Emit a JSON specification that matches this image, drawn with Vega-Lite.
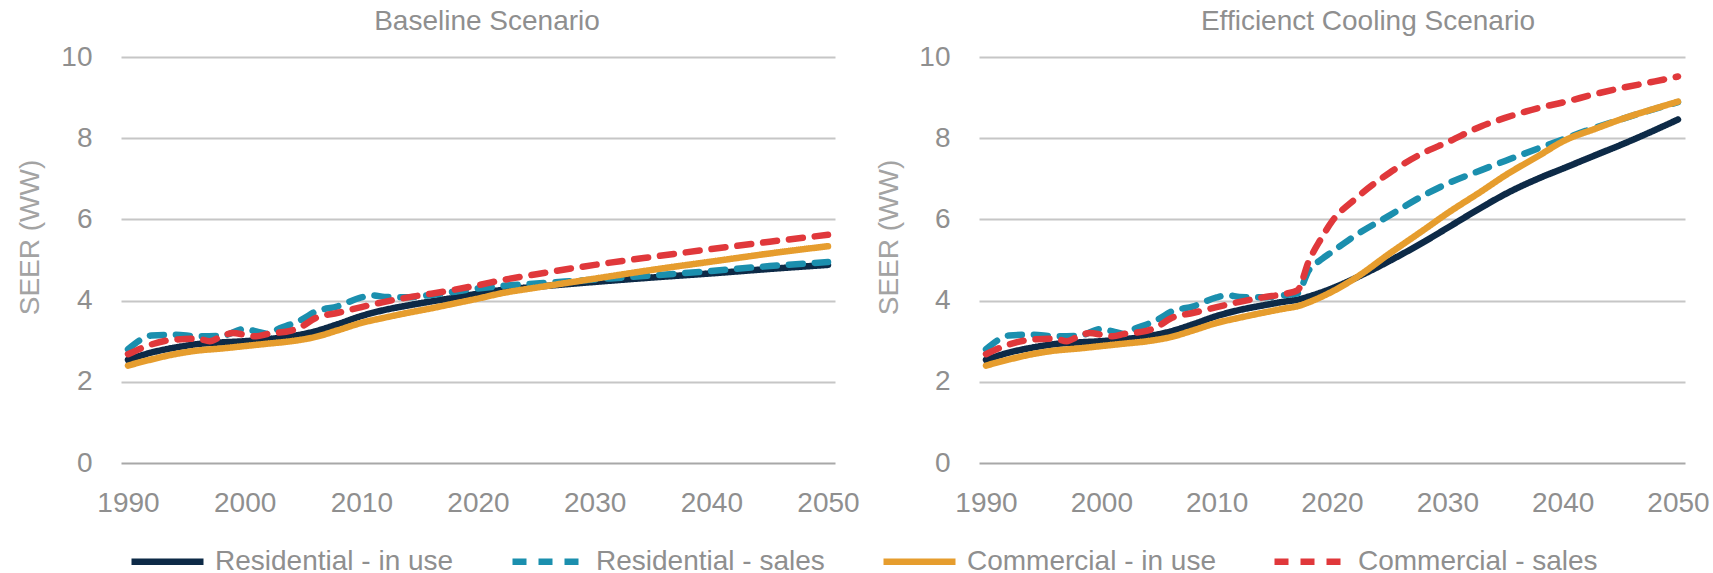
{
  "$schema": "https://vega.github.io/schema/vega-lite/v6.json",
  "background": "white",
  "padding": {"left": 16, "top": 8, "right": 10, "bottom": 0},
  "spacing": 15,
  "datasets": {
    "baseline": [
      {"s": "Residential - in use", "year": 1990, "seer": 2.54},
      {"s": "Residential - in use", "year": 1992, "seer": 2.72},
      {"s": "Residential - in use", "year": 1994, "seer": 2.84},
      {"s": "Residential - in use", "year": 1996, "seer": 2.93},
      {"s": "Residential - in use", "year": 1998, "seer": 2.97},
      {"s": "Residential - in use", "year": 2000, "seer": 3.0},
      {"s": "Residential - in use", "year": 2002, "seer": 3.05},
      {"s": "Residential - in use", "year": 2004, "seer": 3.12},
      {"s": "Residential - in use", "year": 2006, "seer": 3.24},
      {"s": "Residential - in use", "year": 2008, "seer": 3.42},
      {"s": "Residential - in use", "year": 2010, "seer": 3.62},
      {"s": "Residential - in use", "year": 2012, "seer": 3.77},
      {"s": "Residential - in use", "year": 2014, "seer": 3.88},
      {"s": "Residential - in use", "year": 2016, "seer": 3.98},
      {"s": "Residential - in use", "year": 2018, "seer": 4.07},
      {"s": "Residential - in use", "year": 2020, "seer": 4.17},
      {"s": "Residential - in use", "year": 2022, "seer": 4.26},
      {"s": "Residential - in use", "year": 2025, "seer": 4.34},
      {"s": "Residential - in use", "year": 2030, "seer": 4.46},
      {"s": "Residential - in use", "year": 2035, "seer": 4.57},
      {"s": "Residential - in use", "year": 2040, "seer": 4.67},
      {"s": "Residential - in use", "year": 2045, "seer": 4.78},
      {"s": "Residential - in use", "year": 2050, "seer": 4.88},

      {"s": "Residential - sales", "year": 1990, "seer": 2.8},
      {"s": "Residential - sales", "year": 1991, "seer": 3.02},
      {"s": "Residential - sales", "year": 1992, "seer": 3.14},
      {"s": "Residential - sales", "year": 1994, "seer": 3.16},
      {"s": "Residential - sales", "year": 1996, "seer": 3.12},
      {"s": "Residential - sales", "year": 1998, "seer": 3.13},
      {"s": "Residential - sales", "year": 2000, "seer": 3.3},
      {"s": "Residential - sales", "year": 2001, "seer": 3.24},
      {"s": "Residential - sales", "year": 2002, "seer": 3.18},
      {"s": "Residential - sales", "year": 2003, "seer": 3.32},
      {"s": "Residential - sales", "year": 2004, "seer": 3.42},
      {"s": "Residential - sales", "year": 2005, "seer": 3.55},
      {"s": "Residential - sales", "year": 2006, "seer": 3.72},
      {"s": "Residential - sales", "year": 2008, "seer": 3.86},
      {"s": "Residential - sales", "year": 2010, "seer": 4.08},
      {"s": "Residential - sales", "year": 2011, "seer": 4.13},
      {"s": "Residential - sales", "year": 2012, "seer": 4.09},
      {"s": "Residential - sales", "year": 2014, "seer": 4.08},
      {"s": "Residential - sales", "year": 2016, "seer": 4.14},
      {"s": "Residential - sales", "year": 2018, "seer": 4.22},
      {"s": "Residential - sales", "year": 2020, "seer": 4.3},
      {"s": "Residential - sales", "year": 2022, "seer": 4.36},
      {"s": "Residential - sales", "year": 2025, "seer": 4.42},
      {"s": "Residential - sales", "year": 2030, "seer": 4.52},
      {"s": "Residential - sales", "year": 2035, "seer": 4.62},
      {"s": "Residential - sales", "year": 2040, "seer": 4.73},
      {"s": "Residential - sales", "year": 2045, "seer": 4.85},
      {"s": "Residential - sales", "year": 2050, "seer": 4.95},

      {"s": "Commercial - in use", "year": 1990, "seer": 2.4},
      {"s": "Commercial - in use", "year": 1992, "seer": 2.55},
      {"s": "Commercial - in use", "year": 1994, "seer": 2.68},
      {"s": "Commercial - in use", "year": 1996, "seer": 2.77},
      {"s": "Commercial - in use", "year": 1998, "seer": 2.82},
      {"s": "Commercial - in use", "year": 2000, "seer": 2.88},
      {"s": "Commercial - in use", "year": 2002, "seer": 2.94},
      {"s": "Commercial - in use", "year": 2004, "seer": 3.0},
      {"s": "Commercial - in use", "year": 2006, "seer": 3.1},
      {"s": "Commercial - in use", "year": 2008, "seer": 3.27},
      {"s": "Commercial - in use", "year": 2010, "seer": 3.45},
      {"s": "Commercial - in use", "year": 2012, "seer": 3.58},
      {"s": "Commercial - in use", "year": 2014, "seer": 3.7},
      {"s": "Commercial - in use", "year": 2016, "seer": 3.81},
      {"s": "Commercial - in use", "year": 2018, "seer": 3.93},
      {"s": "Commercial - in use", "year": 2020, "seer": 4.05},
      {"s": "Commercial - in use", "year": 2022, "seer": 4.18},
      {"s": "Commercial - in use", "year": 2025, "seer": 4.32},
      {"s": "Commercial - in use", "year": 2030, "seer": 4.54},
      {"s": "Commercial - in use", "year": 2035, "seer": 4.76},
      {"s": "Commercial - in use", "year": 2040, "seer": 4.96},
      {"s": "Commercial - in use", "year": 2045, "seer": 5.16},
      {"s": "Commercial - in use", "year": 2050, "seer": 5.34},

      {"s": "Commercial - sales", "year": 1990, "seer": 2.68},
      {"s": "Commercial - sales", "year": 1992, "seer": 2.92},
      {"s": "Commercial - sales", "year": 1994, "seer": 3.04},
      {"s": "Commercial - sales", "year": 1996, "seer": 3.06},
      {"s": "Commercial - sales", "year": 1997, "seer": 3.0},
      {"s": "Commercial - sales", "year": 1998, "seer": 3.12},
      {"s": "Commercial - sales", "year": 1999, "seer": 3.2},
      {"s": "Commercial - sales", "year": 2000, "seer": 3.16},
      {"s": "Commercial - sales", "year": 2001, "seer": 3.12},
      {"s": "Commercial - sales", "year": 2002, "seer": 3.18},
      {"s": "Commercial - sales", "year": 2004, "seer": 3.26},
      {"s": "Commercial - sales", "year": 2005, "seer": 3.38},
      {"s": "Commercial - sales", "year": 2006, "seer": 3.56},
      {"s": "Commercial - sales", "year": 2008, "seer": 3.7},
      {"s": "Commercial - sales", "year": 2010, "seer": 3.84},
      {"s": "Commercial - sales", "year": 2012, "seer": 3.97},
      {"s": "Commercial - sales", "year": 2014, "seer": 4.08},
      {"s": "Commercial - sales", "year": 2016, "seer": 4.17},
      {"s": "Commercial - sales", "year": 2018, "seer": 4.27},
      {"s": "Commercial - sales", "year": 2020, "seer": 4.38},
      {"s": "Commercial - sales", "year": 2022, "seer": 4.5},
      {"s": "Commercial - sales", "year": 2025, "seer": 4.65},
      {"s": "Commercial - sales", "year": 2030, "seer": 4.88},
      {"s": "Commercial - sales", "year": 2035, "seer": 5.08},
      {"s": "Commercial - sales", "year": 2040, "seer": 5.27},
      {"s": "Commercial - sales", "year": 2045, "seer": 5.45},
      {"s": "Commercial - sales", "year": 2050, "seer": 5.62}
    ],
    "efficient": [
      {"s": "Residential - in use", "year": 1990, "seer": 2.54},
      {"s": "Residential - in use", "year": 1992, "seer": 2.72},
      {"s": "Residential - in use", "year": 1994, "seer": 2.84},
      {"s": "Residential - in use", "year": 1996, "seer": 2.93},
      {"s": "Residential - in use", "year": 1998, "seer": 2.97},
      {"s": "Residential - in use", "year": 2000, "seer": 3.0},
      {"s": "Residential - in use", "year": 2002, "seer": 3.05},
      {"s": "Residential - in use", "year": 2004, "seer": 3.12},
      {"s": "Residential - in use", "year": 2006, "seer": 3.24},
      {"s": "Residential - in use", "year": 2008, "seer": 3.42},
      {"s": "Residential - in use", "year": 2010, "seer": 3.62},
      {"s": "Residential - in use", "year": 2012, "seer": 3.77},
      {"s": "Residential - in use", "year": 2014, "seer": 3.88},
      {"s": "Residential - in use", "year": 2016, "seer": 3.98},
      {"s": "Residential - in use", "year": 2017, "seer": 4.02},
      {"s": "Residential - in use", "year": 2018, "seer": 4.1},
      {"s": "Residential - in use", "year": 2020, "seer": 4.3},
      {"s": "Residential - in use", "year": 2022, "seer": 4.55},
      {"s": "Residential - in use", "year": 2025, "seer": 4.98},
      {"s": "Residential - in use", "year": 2028, "seer": 5.45},
      {"s": "Residential - in use", "year": 2030, "seer": 5.79},
      {"s": "Residential - in use", "year": 2033, "seer": 6.3},
      {"s": "Residential - in use", "year": 2035, "seer": 6.62},
      {"s": "Residential - in use", "year": 2038, "seer": 7.02},
      {"s": "Residential - in use", "year": 2040, "seer": 7.25},
      {"s": "Residential - in use", "year": 2043, "seer": 7.6},
      {"s": "Residential - in use", "year": 2045, "seer": 7.83},
      {"s": "Residential - in use", "year": 2048, "seer": 8.2},
      {"s": "Residential - in use", "year": 2050, "seer": 8.46},

      {"s": "Residential - sales", "year": 1990, "seer": 2.8},
      {"s": "Residential - sales", "year": 1991, "seer": 3.02},
      {"s": "Residential - sales", "year": 1992, "seer": 3.14},
      {"s": "Residential - sales", "year": 1994, "seer": 3.16},
      {"s": "Residential - sales", "year": 1996, "seer": 3.12},
      {"s": "Residential - sales", "year": 1998, "seer": 3.13},
      {"s": "Residential - sales", "year": 2000, "seer": 3.3},
      {"s": "Residential - sales", "year": 2001, "seer": 3.24},
      {"s": "Residential - sales", "year": 2002, "seer": 3.18},
      {"s": "Residential - sales", "year": 2003, "seer": 3.32},
      {"s": "Residential - sales", "year": 2004, "seer": 3.42},
      {"s": "Residential - sales", "year": 2005, "seer": 3.55},
      {"s": "Residential - sales", "year": 2006, "seer": 3.72},
      {"s": "Residential - sales", "year": 2008, "seer": 3.86},
      {"s": "Residential - sales", "year": 2010, "seer": 4.08},
      {"s": "Residential - sales", "year": 2011, "seer": 4.13},
      {"s": "Residential - sales", "year": 2012, "seer": 4.09},
      {"s": "Residential - sales", "year": 2014, "seer": 4.08},
      {"s": "Residential - sales", "year": 2016, "seer": 4.14},
      {"s": "Residential - sales", "year": 2017, "seer": 4.18},
      {"s": "Residential - sales", "year": 2018, "seer": 4.75},
      {"s": "Residential - sales", "year": 2019, "seer": 5.0},
      {"s": "Residential - sales", "year": 2020, "seer": 5.2},
      {"s": "Residential - sales", "year": 2022, "seer": 5.6},
      {"s": "Residential - sales", "year": 2025, "seer": 6.1},
      {"s": "Residential - sales", "year": 2028, "seer": 6.6},
      {"s": "Residential - sales", "year": 2030, "seer": 6.88},
      {"s": "Residential - sales", "year": 2033, "seer": 7.22},
      {"s": "Residential - sales", "year": 2035, "seer": 7.44},
      {"s": "Residential - sales", "year": 2038, "seer": 7.76},
      {"s": "Residential - sales", "year": 2040, "seer": 7.97},
      {"s": "Residential - sales", "year": 2042, "seer": 8.18},
      {"s": "Residential - sales", "year": 2045, "seer": 8.46},
      {"s": "Residential - sales", "year": 2050, "seer": 8.89},

      {"s": "Commercial - in use", "year": 1990, "seer": 2.4},
      {"s": "Commercial - in use", "year": 1992, "seer": 2.55},
      {"s": "Commercial - in use", "year": 1994, "seer": 2.68},
      {"s": "Commercial - in use", "year": 1996, "seer": 2.77},
      {"s": "Commercial - in use", "year": 1998, "seer": 2.82},
      {"s": "Commercial - in use", "year": 2000, "seer": 2.88},
      {"s": "Commercial - in use", "year": 2002, "seer": 2.94},
      {"s": "Commercial - in use", "year": 2004, "seer": 3.0},
      {"s": "Commercial - in use", "year": 2006, "seer": 3.1},
      {"s": "Commercial - in use", "year": 2008, "seer": 3.27},
      {"s": "Commercial - in use", "year": 2010, "seer": 3.45},
      {"s": "Commercial - in use", "year": 2012, "seer": 3.58},
      {"s": "Commercial - in use", "year": 2014, "seer": 3.7},
      {"s": "Commercial - in use", "year": 2016, "seer": 3.81},
      {"s": "Commercial - in use", "year": 2017, "seer": 3.86},
      {"s": "Commercial - in use", "year": 2018, "seer": 3.96},
      {"s": "Commercial - in use", "year": 2020, "seer": 4.22},
      {"s": "Commercial - in use", "year": 2022, "seer": 4.55},
      {"s": "Commercial - in use", "year": 2025, "seer": 5.16},
      {"s": "Commercial - in use", "year": 2028, "seer": 5.75},
      {"s": "Commercial - in use", "year": 2030, "seer": 6.15},
      {"s": "Commercial - in use", "year": 2033, "seer": 6.7},
      {"s": "Commercial - in use", "year": 2035, "seer": 7.08},
      {"s": "Commercial - in use", "year": 2038, "seer": 7.58},
      {"s": "Commercial - in use", "year": 2040, "seer": 7.92},
      {"s": "Commercial - in use", "year": 2043, "seer": 8.25},
      {"s": "Commercial - in use", "year": 2045, "seer": 8.46},
      {"s": "Commercial - in use", "year": 2048, "seer": 8.73},
      {"s": "Commercial - in use", "year": 2050, "seer": 8.9},

      {"s": "Commercial - sales", "year": 1990, "seer": 2.68},
      {"s": "Commercial - sales", "year": 1992, "seer": 2.92},
      {"s": "Commercial - sales", "year": 1994, "seer": 3.04},
      {"s": "Commercial - sales", "year": 1996, "seer": 3.06},
      {"s": "Commercial - sales", "year": 1997, "seer": 3.0},
      {"s": "Commercial - sales", "year": 1998, "seer": 3.12},
      {"s": "Commercial - sales", "year": 1999, "seer": 3.2},
      {"s": "Commercial - sales", "year": 2000, "seer": 3.16},
      {"s": "Commercial - sales", "year": 2001, "seer": 3.12},
      {"s": "Commercial - sales", "year": 2002, "seer": 3.18},
      {"s": "Commercial - sales", "year": 2004, "seer": 3.26},
      {"s": "Commercial - sales", "year": 2005, "seer": 3.38},
      {"s": "Commercial - sales", "year": 2006, "seer": 3.56},
      {"s": "Commercial - sales", "year": 2008, "seer": 3.7},
      {"s": "Commercial - sales", "year": 2010, "seer": 3.84},
      {"s": "Commercial - sales", "year": 2012, "seer": 3.97},
      {"s": "Commercial - sales", "year": 2014, "seer": 4.08},
      {"s": "Commercial - sales", "year": 2016, "seer": 4.17},
      {"s": "Commercial - sales", "year": 2017, "seer": 4.25},
      {"s": "Commercial - sales", "year": 2018, "seer": 4.98},
      {"s": "Commercial - sales", "year": 2019, "seer": 5.5},
      {"s": "Commercial - sales", "year": 2020, "seer": 5.95},
      {"s": "Commercial - sales", "year": 2022, "seer": 6.5},
      {"s": "Commercial - sales", "year": 2025, "seer": 7.15},
      {"s": "Commercial - sales", "year": 2028, "seer": 7.65},
      {"s": "Commercial - sales", "year": 2030, "seer": 7.9},
      {"s": "Commercial - sales", "year": 2033, "seer": 8.3},
      {"s": "Commercial - sales", "year": 2035, "seer": 8.5},
      {"s": "Commercial - sales", "year": 2038, "seer": 8.75},
      {"s": "Commercial - sales", "year": 2040, "seer": 8.88},
      {"s": "Commercial - sales", "year": 2043, "seer": 9.1},
      {"s": "Commercial - sales", "year": 2045, "seer": 9.23},
      {"s": "Commercial - sales", "year": 2048, "seer": 9.4},
      {"s": "Commercial - sales", "year": 2050, "seer": 9.52}
    ]
  },
  "config": {
    "font": "Liberation Sans",
    "view": {"stroke": null},
    "axis": {
      "labelFont": "Liberation Sans",
      "labelFontSize": 28,
      "labelColor": "#8f8f8f",
      "titleFont": "Liberation Sans",
      "titleFontSize": 28,
      "titleFontWeight": "normal",
      "titleColor": "#a3a3a3",
      "domain": false,
      "ticks": false
    },
    "title": {"font": "Liberation Sans", "fontSize": 28, "fontWeight": "normal", "color": "#8f8f8f", "anchor": "middle"},
    "legend": {
      "labelFont": "Liberation Sans",
      "labelFontSize": 28,
      "labelColor": "#8f8f8f",
      "labelLimit": 400,
      "padding": 0
    },
    "line": {"strokeWidth": 6.5, "strokeCap": "round", "strokeJoin": "round", "interpolate": "monotone"}
  },
  "hconcat": [
    {
      "width": 714,
      "height": 406,
      "title": {"text": "Baseline Scenario", "dx": 9, "offset": 7},
      "data": {"name": "baseline"},
      "mark": {"type": "line"},
      "encoding": {
        "x": {
          "field": "year", "type": "quantitative",
          "scale": {"domain": [1990, 2050], "nice": false, "zero": false, "padding": 7},
          "axis": {"values": [1990, 2000, 2010, 2020, 2030, 2040, 2050], "format": "d", "grid": false, "title": null, "labelPadding": 26, "labelFlush": false}
        },
        "y": {
          "field": "seer", "type": "quantitative",
          "scale": {"domain": [0, 10], "nice": false},
          "axis": {
            "values": [0, 2, 4, 6, 8, 10], "title": "SEER (WW)", "labelPadding": 29,
            "grid": true, "gridWidth": 2.2,
            "gridColor": {"condition": {"test": "datum.value === 0", "value": "#a8a8a8"}, "value": "#c6c6c6"},
            "titleX": -91, "titleY": 180, "titleAlign": "center", "titleBaseline": "middle"
          }
        },
        "color": {
          "field": "s", "type": "nominal",
          "scale": {
            "domain": ["Residential - in use", "Residential - sales", "Commercial - in use", "Commercial - sales"],
            "range": ["#0d2a47", "#1b8fae", "#e69d2e", "#e0383b"]
          },
          "legend": {
            "title": null, "orient": "none", "legendX": 7, "legendY": 465,
            "direction": "horizontal", "columns": 4, "columnPadding": 55,
            "symbolType": "stroke", "symbolSize": 5184, "symbolStrokeWidth": 6.5, "labelOffset": 8,
            "encode": {"symbols": {"update": {"strokeCap": {"value": "round"}}}}
          }
        },
        "strokeDash": {
          "field": "s", "type": "nominal",
          "scale": {
            "domain": ["Residential - in use", "Residential - sales", "Commercial - in use", "Commercial - sales"],
            "range": [[1, 0], [14, 12], [1, 0], [14, 12]]
          },
          "legend": {
            "title": null, "orient": "none", "legendX": 7, "legendY": 465,
            "direction": "horizontal", "columns": 4, "columnPadding": 55,
            "symbolType": "stroke", "symbolSize": 5184, "symbolStrokeWidth": 6.5, "labelOffset": 8,
            "encode": {"symbols": {"update": {"strokeCap": {"value": "round"}}}}
          }
        }
      }
    },
    {
      "width": 706,
      "height": 406,
      "title": {"text": "Efficienct Cooling Scenario", "dx": 36, "offset": 7},
      "data": {"name": "efficient"},
      "mark": {"type": "line"},
      "encoding": {
        "x": {
          "field": "year", "type": "quantitative",
          "scale": {"domain": [1990, 2050], "nice": false, "zero": false, "padding": 7},
          "axis": {"values": [1990, 2000, 2010, 2020, 2030, 2040, 2050], "format": "d", "grid": false, "title": null, "labelPadding": 26, "labelFlush": false}
        },
        "y": {
          "field": "seer", "type": "quantitative",
          "scale": {"domain": [0, 10], "nice": false},
          "axis": {
            "values": [0, 2, 4, 6, 8, 10], "title": "SEER (WW)", "labelPadding": 29,
            "grid": true, "gridWidth": 2.2,
            "gridColor": {"condition": {"test": "datum.value === 0", "value": "#a8a8a8"}, "value": "#c6c6c6"},
            "titleX": -90, "titleY": 180, "titleAlign": "center", "titleBaseline": "middle"
          }
        },
        "color": {
          "field": "s", "type": "nominal",
          "scale": {
            "domain": ["Residential - in use", "Residential - sales", "Commercial - in use", "Commercial - sales"],
            "range": ["#0d2a47", "#1b8fae", "#e69d2e", "#e0383b"]
          }
        },
        "strokeDash": {
          "field": "s", "type": "nominal",
          "scale": {
            "domain": ["Residential - in use", "Residential - sales", "Commercial - in use", "Commercial - sales"],
            "range": [[1, 0], [14, 12], [1, 0], [14, 12]]
          }
        }
      }
    }
  ]
}
